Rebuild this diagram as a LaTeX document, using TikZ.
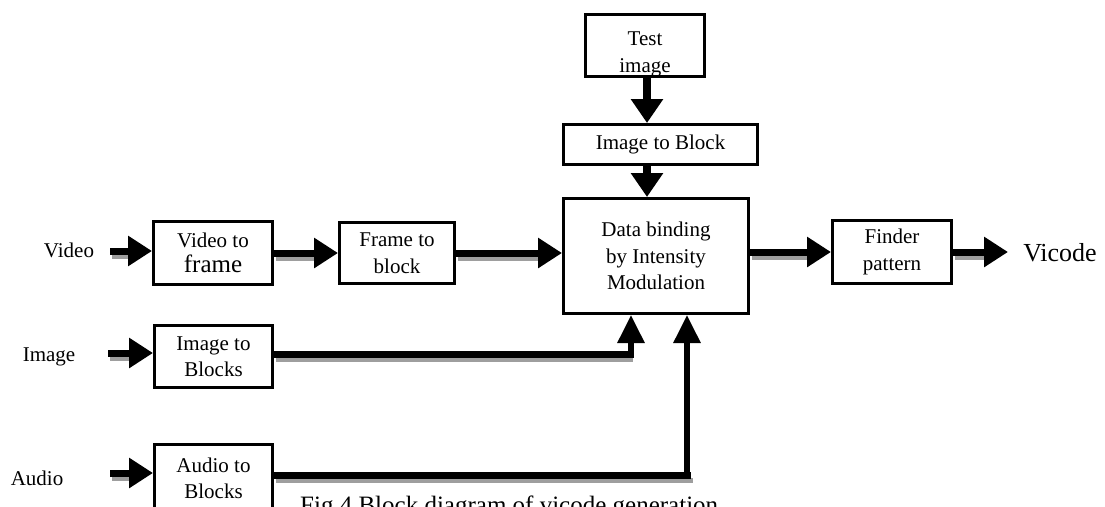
\documentclass[tikz,border=0pt]{standalone}
\usepackage{fontspec}
\setmainfont{Liberation Serif}
\usetikzlibrary{arrows.meta,calc,backgrounds}
\begin{document}
\begin{tikzpicture}[x=1pt,y=-1pt,
  box/.style={draw=black, line width=3pt, fill=white, inner sep=0pt, align=center,
    font=\fontsize{21}{26.5}\selectfont},
  lbl/.style={inner sep=0pt, font=\fontsize{21}{25}\selectfont},
  arr/.style={line width=7pt, -{Triangle[length=24pt,width=29pt]},
    preaction={draw=black!38, line width=5pt, -, shorten >=22pt,
      transform canvas={shift={(2pt,-5pt)}}}},
  line/.style={line width=7pt,
    preaction={draw=black!38, line width=5pt, -,
      transform canvas={shift={(2pt,-5pt)}}}},
  varr/.style={line width=8pt, -{Triangle[length=24pt,width=31pt]}},
  uarr/.style={line width=6pt, -{Triangle[length=28pt,width=26pt]}}
]
\useasboundingbox (0,0) rectangle (1105,506);

% boxes
\node[box, minimum width=119pt, minimum height=62pt] (test) at (645,45.5) {};
\begin{scope}
  \clip (584,13) rectangle (706,76);
  \node[lbl, align=center, font=\fontsize{21}{27}\selectfont] (testtxt) at (645,54) {Test\\image};
\end{scope}
\node[box, minimum width=194pt, minimum height=40pt] (itb) at (660.5,144.5) {Image to Block};
\node[box, minimum width=185pt, minimum height=115pt] (data) at (656,256)
  {Data binding\\by Intensity\\Modulation};
\node[box, minimum width=119pt, minimum height=63pt] (finder) at (892,252) {Finder\\pattern};
\node[box, minimum width=119pt, minimum height=63pt] (v2f) at (213,253)
  {Video to\\[-2pt]{\fontsize{25}{28}\selectfont frame}};
\node[box, minimum width=115pt, minimum height=61pt] (f2b) at (397,253) {Frame to\\block};
\node[box, minimum width=118pt, minimum height=62pt] (i2b) at (213.5,356.5) {Image to\\Blocks};
\node[box, minimum width=118pt, minimum height=76pt, text depth=8pt] (a2b) at (213.5,482) {Audio to\\Blocks};

% labels
\node[lbl] (video) at (69,250) {Video};
\node[lbl] (image) at (49,357) {Image};
\node[lbl] (audio) at (37,478) {Audio};
\node[inner sep=0pt, font=\fontsize{26}{30}\selectfont] (vicode) at (1060,253) {Vicode};
\node[inner sep=0pt, font=\fontsize{25}{29}\selectfont, anchor=base west] (caption) at (300,513)
  {Fig.4 Block diagram of vicode generation};

\coordinate (vin) at (110,251);
\coordinate (iin) at (108,353);
\coordinate (ain) at (110,473);
\coordinate (vout) at (1008,252);

\begin{pgfonlayer}{background}
  \draw[arr] (vin) -- (vin -| v2f.west);
  \draw[arr] (iin) -- (iin -| i2b.west);
  \draw[arr] (ain) -- (ain -| a2b.west);
  \draw[arr] (v2f.east) -- (f2b.west);
  \draw[arr] (f2b.east) -- (f2b.east -| data.west);
  \draw[arr] (data.east |- finder.west) -- (finder.west);
  \draw[arr] (finder.east) -- (vout);
  \draw[varr] (test.south -| 647,0) -- (itb.north -| 647,0);
  \draw[varr] (itb.south -| 647,0) -- (data.north -| 647,0);
  \draw[line] (i2b.east |- 0,354) -- (631,354);
  \draw[uarr] (631,357.5) -- ($(data.south)+(-25,0)$);
  \draw[line] (a2b.east |- 0,475) -- (690.5,475);
  \draw[uarr] (687,478) -- ($(data.south)+(31,0)$);
\end{pgfonlayer}
\end{tikzpicture}
\end{document}
